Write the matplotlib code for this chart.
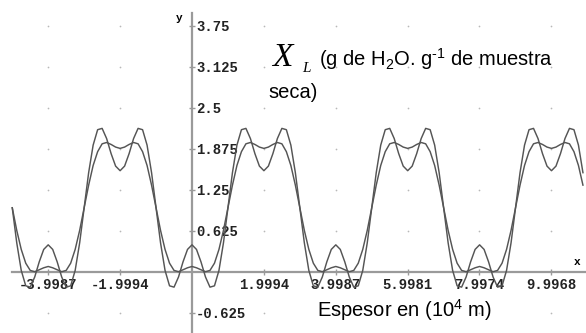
import matplotlib
matplotlib.use("Agg")
import matplotlib.pyplot as plt
import numpy as np

# curve samples, every 0.125 units starting at x = -5
X_START = -5.0
X_STEP = 0.125

OUTER = [
    0.975, 0.44, 0.02, -0.215, -0.235, -0.08, 0.15, 0.34,
    0.41, 0.34, 0.15, -0.08, -0.235, -0.215, 0.02, 0.44, 0.975, 1.51, 1.93, 2.165, 2.185, 2.03, 1.80, 1.61,
    1.54, 1.61, 1.80, 2.03, 2.185, 2.165, 1.93, 1.51, 0.975, 0.44, 0.02, -0.215, -0.235, -0.08, 0.15, 0.34,
    0.41, 0.34, 0.15, -0.08, -0.235, -0.215, 0.02, 0.44, 0.975, 1.51, 1.93, 2.165, 2.185, 2.03, 1.80, 1.61,
    1.54, 1.61, 1.80, 2.03, 2.185, 2.165, 1.93, 1.51, 0.975, 0.44, 0.02, -0.215, -0.235, -0.08, 0.15, 0.34,
    0.41, 0.34, 0.15, -0.08, -0.235, -0.215, 0.02, 0.44, 0.975, 1.51, 1.93, 2.165, 2.185, 2.03, 1.80, 1.61,
    1.54, 1.61, 1.80, 2.03, 2.185, 2.165, 1.93, 1.51, 0.975, 0.44, 0.02, -0.215, -0.235, -0.08, 0.15, 0.34,
    0.41, 0.34, 0.15, -0.08, -0.235, -0.215, 0.02, 0.44, 0.975, 1.51, 1.93, 2.165, 2.185, 2.03, 1.80, 1.61,
    1.54, 1.61, 1.80, 2.03, 2.185, 2.165, 1.93, 1.51,
]
INNER = [
    0.975, 0.63, 0.34, 0.13, 0.02, 0.00, 0.03, 0.06,
    0.08, 0.06, 0.03, 0.00, 0.02, 0.13, 0.34, 0.63, 0.975, 1.32, 1.62, 1.83, 1.95, 1.97, 1.94, 1.90,
    1.88, 1.90, 1.94, 1.97, 1.95, 1.83, 1.62, 1.32, 0.975, 0.63, 0.34, 0.13, 0.02, 0.00, 0.03, 0.06,
    0.08, 0.06, 0.03, 0.00, 0.02, 0.13, 0.34, 0.63, 0.975, 1.32, 1.62, 1.83, 1.95, 1.97, 1.94, 1.90,
    1.88, 1.90, 1.94, 1.97, 1.95, 1.83, 1.62, 1.32, 0.975, 0.63, 0.34, 0.13, 0.02, 0.00, 0.03, 0.06,
    0.08, 0.06, 0.03, 0.00, 0.02, 0.13, 0.34, 0.63, 0.975, 1.32, 1.62, 1.83, 1.95, 1.97, 1.94, 1.90,
    1.88, 1.90, 1.94, 1.97, 1.95, 1.83, 1.62, 1.32, 0.975, 0.63, 0.34, 0.13, 0.02, 0.00, 0.03, 0.06,
    0.08, 0.06, 0.03, 0.00, 0.02, 0.13, 0.34, 0.63, 0.975, 1.32, 1.62, 1.83, 1.95, 1.97, 1.94, 1.90,
    1.88, 1.90, 1.94, 1.97, 1.95, 1.83, 1.62, 1.32,
]

XTICKS = [-3.9987, -1.9994, 1.9994, 3.9987, 5.9981, 7.9974, 9.9968]
XTICK_LABELS = ["-3.9987", "-1.9994", "1.9994", "3.9987", "5.9981", "7.9974", "9.9968"]
YTICKS = [-0.625, 0.625, 1.25, 1.875, 2.5, 3.125, 3.75]
YTICK_LABELS = ["-0.625", "0.625", "1.25", "1.875", "2.5", "3.125", "3.75"]

W, H = 586, 333
AXIS = "#9a9a9a"
CURVE = "#555555"
MONO = "Liberation Mono"

plt.rcParams["mathtext.fontset"] = "custom"
plt.rcParams["mathtext.rm"] = "Liberation Sans"
plt.rcParams["mathtext.it"] = "Liberation Sans:italic"

fig = plt.figure(figsize=(W / 100, H / 100), dpi=100)
ax = fig.add_axes([0, 0, 1, 1])
ax.set_xlim(-5.341, 10.96)
ax.set_ylim(-0.934, 4.142)

x = X_START + X_STEP * np.arange(len(OUTER))
ax.plot(x, OUTER, color=CURVE, lw=1.05, zorder=3)
ax.plot(x, INNER, color=CURVE, lw=1.05, zorder=3)

# dotted grid at tick crossings
gx, gy = np.meshgrid(XTICKS, YTICKS)
ax.scatter(gx.ravel(), gy.ravel(), s=1.5, color="#b8b8b8", lw=0, zorder=1)

# axes through the origin
for s in ["top", "left"]:
    ax.spines[s].set_visible(False)
ax.spines["right"].set_position(("data", 0))
ax.spines["right"].set_bounds(-0.934, 3.944)
ax.spines["bottom"].set_position(("data", 0))
ax.spines["bottom"].set_bounds(-5.007, 10.96)
for s in ["right", "bottom"]:
    ax.spines[s].set_color(AXIS)
    ax.spines[s].set_linewidth(1.6)
ax.yaxis.tick_right()

ax.set_xticks(XTICKS, labels=XTICK_LABELS)
ax.set_yticks(YTICKS, labels=YTICK_LABELS)
ax.tick_params(axis="both", direction="inout", length=4, width=1, color=AXIS)
ax.tick_params(axis="y", pad=1)
ax.tick_params(axis="x", pad=2.5)
for lab in ax.get_xticklabels() + ax.get_yticklabels():
    lab.set_fontfamily(MONO)
    lab.set_fontweight("bold")
    lab.set_fontsize(10)
    lab.set_color("#222222")

ax.text(577 / W, 1 - 262 / H, "x", transform=ax.transAxes, fontfamily=MONO, fontweight="bold",
        fontsize=8, ha="center", va="center")
ax.text(179 / W, 1 - 18 / H, "y", transform=ax.transAxes, fontfamily=MONO, fontweight="bold",
        fontsize=8, ha="center", va="center")

# annotations
ax.text(272 / W, 1 - 66 / H, "X", transform=ax.transAxes, fontfamily="Liberation Serif",
        style="italic", fontsize=24, va="baseline", ha="left")
ax.text(302 / W, 1 - 72 / H, "L", transform=ax.transAxes, fontfamily="Liberation Serif",
        style="italic", fontsize=11, va="baseline", ha="left")
ax.text(319 / W, 1 - 66 / H, r"(g de H$_2$O. g$^{\text{-1}}$ de muestra", transform=ax.transAxes,
        fontfamily="Liberation Sans", fontsize=14.5, va="baseline", ha="left")
ax.text(268 / W, 1 - 98 / H, "seca)", transform=ax.transAxes,
        fontfamily="Liberation Sans", fontsize=14.5, va="baseline", ha="left")
ax.text(317 / W, 1 - 317 / H, r"Espesor en (10$^4$ m)", transform=ax.transAxes,
        fontfamily="Liberation Sans", fontsize=14.5, va="baseline", ha="left")

fig.savefig("out.png", dpi=100, facecolor="white")
